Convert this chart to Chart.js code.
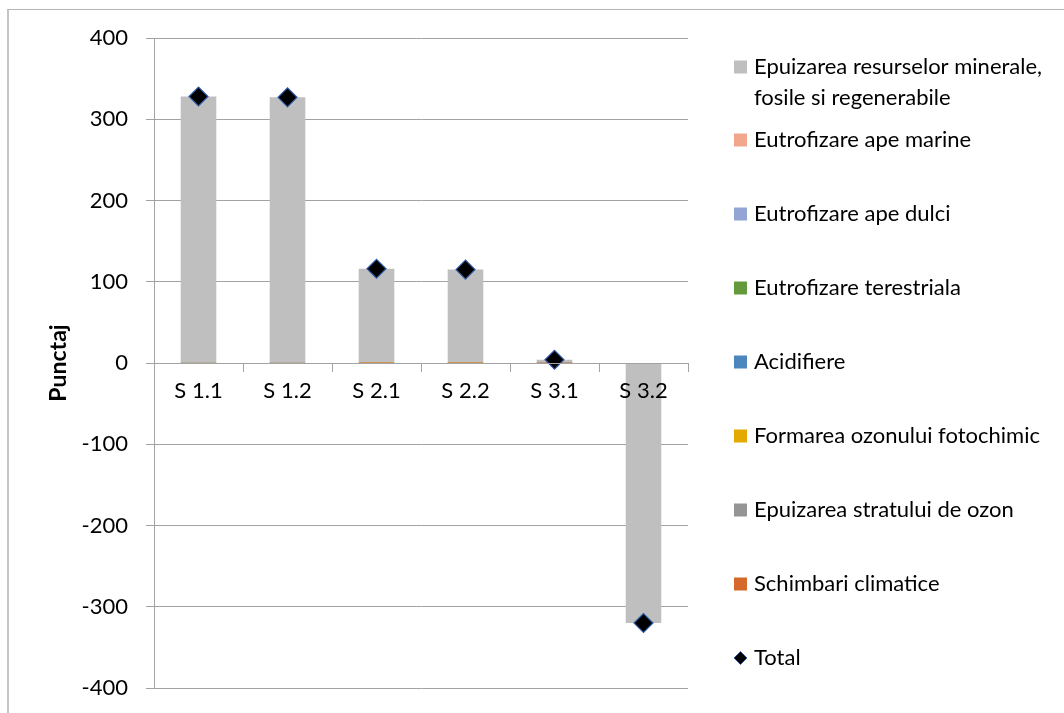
<!DOCTYPE html>
<html lang="en">
<head>
    <meta charset="UTF-8">
    <title>Punctaj</title>
    <style>
        body {
            margin: 0;
            background: #ffffff;
        }

        #chart-box {
            position: relative;
            width: 1064px;
            height: 713px;
        }

        /* chart frame: only the top and left edges are visible in the picture */
        #frame {
            position: absolute;
            left: 7px;
            top: 9px;
            right: -10px;
            bottom: -10px;
            border-left: 2px solid #c4c4c4;
            border-top: 1px solid #b4b4b4;
            pointer-events: none;
        }
    </style>
</head>
<body>
    <div id="chart-box">
        <canvas id="impact-chart"></canvas>
        <div id="frame"></div>
    </div>

    <script src="https://cdn.jsdelivr.net/npm/chart.js@4.4.0/dist/chart.umd.min.js"></script>

    <script>
        // categories (scenarii)
        const categories = ['S 1.1', 'S 1.2', 'S 2.1', 'S 2.2', 'S 3.1', 'S 3.2'];

        // stacked impact categories (first one sits at the bottom of the stack)
        const schimbariClimatice = [0.2, 0.2, 0.1, 0.1, 0.1, -0.4];
        const epuizareStratOzon = [0.0, 0.0, 0.0, 0.0, 0.0, 0.0];
        const ozonFotochimic = [0.1, 0.1, 0.1, 0.1, 0.0, -0.1];
        const acidifiere = [0.4, 0.4, 0.2, 0.2, 0.1, -0.1];
        const eutrofTerestra = [0.1, 0.1, 0.1, 0.1, 0.0, 0.0];
        const eutrofApeDulci = [0.1, 0.1, 0.0, 0.0, 0.0, 0.0];
        const eutrofApeMarine = [0.1, 0.1, 0.1, 0.1, 0.0, 0.0];
        const epuizareResurse = [327.0, 326.0, 115.5, 114.5, 3.8, -319.4];

        // total per scenario
        const totalPunctaj = [328, 327, 116, 115, 4, -320];

        // y axis
        const yMin = -400;
        const yMax = 400;
        const yStep = 100;

        const fontName = 'Lato, "Open Sans", sans-serif';
        const gridColor = '#a3a3a3';

        const barSeries = [
            { label: 'Schimbari climatice', data: schimbariClimatice, color: '#d4692a' },
            { label: 'Epuizarea stratului de ozon', data: epuizareStratOzon, color: '#959595' },
            { label: 'Formarea ozonului fotochimic', data: ozonFotochimic, color: '#e3aa00' },
            { label: 'Acidifiere', data: acidifiere, color: '#4d86bd' },
            { label: 'Eutrofizare terestriala', data: eutrofTerestra, color: '#64993d' },
            { label: 'Eutrofizare ape dulci', data: eutrofApeDulci, color: '#92a5d4' },
            { label: 'Eutrofizare ape marine', data: eutrofApeMarine, color: '#f2a68c' },
            { label: 'Epuizarea resurselor minerale, fosile si regenerabile', data: epuizareResurse, color: '#bfbfbf' }
        ];

        const datasets = barSeries.map(s => ({
            type: 'bar',
            label: s.label,
            data: s.data,
            backgroundColor: s.color,
            borderWidth: 0,
            stack: 'impact',
            order: 1,
            categoryPercentage: 1.0,
            barPercentage: 0.4
        }));

        datasets.push({
            type: 'line',
            label: 'Total',
            data: totalPunctaj,
            stack: 'total',
            order: 0,
            showLine: false,
            pointStyle: 'rectRot',
            pointRadius: 9.5,
            pointBackgroundColor: '#000000',
            pointBorderColor: '#2f5aa6',
            pointBorderWidth: 1.2
        });

        // legend on the right, drawn by hand to get the spacing of the original
        const legendX = 734;
        const legendRows = [67, 140, 214, 288, 362, 436, 510, 584, 658];
        const legendLineHeight = 31;
        const legendMaxWidth = 310;

        function wrapText(ctx, text, maxWidth) {
            const words = text.split(' ');
            const lines = [];
            let line = '';
            words.forEach(w => {
                const test = line ? line + ' ' + w : w;
                if (ctx.measureText(test).width > maxWidth && line) {
                    lines.push(line);
                    line = w;
                } else {
                    line = test;
                }
            });
            lines.push(line);
            return lines;
        }

        const sideLegend = {
            id: 'sideLegend',
            afterDraw(chart) {
                const ctx = chart.ctx;
                const sets = chart.data.datasets;
                const bars = sets.filter(d => d.type === 'bar').reverse();
                const items = bars.concat(sets.filter(d => d.type === 'line'));

                ctx.save();
                ctx.font = '22px ' + fontName;
                ctx.textBaseline = 'middle';
                ctx.textAlign = 'left';

                items.forEach((d, i) => {
                    const y = legendRows[i];
                    if (d.type === 'bar') {
                        ctx.fillStyle = d.backgroundColor;
                        ctx.fillRect(legendX, y - 6.5, 13, 13);
                    } else {
                        ctx.beginPath();
                        ctx.moveTo(legendX + 6.5, y - 6.5);
                        ctx.lineTo(legendX + 13, y);
                        ctx.lineTo(legendX + 6.5, y + 6.5);
                        ctx.lineTo(legendX, y);
                        ctx.closePath();
                        ctx.fillStyle = d.pointBackgroundColor;
                        ctx.fill();
                        ctx.strokeStyle = d.pointBorderColor;
                        ctx.lineWidth = 1;
                        ctx.stroke();
                    }
                    ctx.fillStyle = '#000000';
                    const lines = wrapText(ctx, d.label, legendMaxWidth);
                    lines.forEach((ln, k) => {
                        ctx.fillText(ln, legendX + 20, y + k * legendLineHeight);
                    });
                });
                ctx.restore();
            }
        };

        const chart = new Chart(document.getElementById('impact-chart'), {
            data: {
                labels: categories,
                datasets: datasets
            },
            options: {
                responsive: true,
                maintainAspectRatio: false,
                animation: false,
                layout: {
                    padding: { left: 42, right: 376, top: 38, bottom: 25 }
                },
                plugins: {
                    legend: { display: false },
                    tooltip: { enabled: false }
                },
                scales: {
                    x: {
                        stacked: true,
                        position: { y: 0 },
                        offset: true,
                        border: { color: gridColor, width: 1, z: 1 },
                        grid: {
                            drawOnChartArea: false,
                            drawTicks: true,
                            tickLength: 8,
                            color: gridColor,
                            offset: true,
                            z: 1
                        },
                        ticks: {
                            z: 1,
                            color: '#000000',
                            padding: 7,
                            font: { family: fontName, size: 22 }
                        }
                    },
                    y: {
                        stacked: true,
                        min: yMin,
                        max: yMax,
                        afterFit(scale) {
                            // fixed axis width, and no extra room for the end labels
                            scale.width = 112;
                            scale.paddingTop = 0;
                            scale.paddingBottom = 0;
                        },
                        border: { color: gridColor, width: 1 },
                        grid: {
                            color: gridColor,
                            tickLength: 8,
                            drawTicks: true
                        },
                        ticks: {
                            stepSize: yStep,
                            color: '#000000',
                            padding: 18,
                            font: { family: fontName, size: 22 }
                        },
                        title: {
                            display: true,
                            text: 'Punctaj',
                            color: '#000000',
                            padding: { top: 3, bottom: 4 },
                            font: { family: fontName, size: 23, weight: 'bold' }
                        }
                    }
                }
            },
            plugins: [sideLegend]
        });
    </script>
</body>
</html>
